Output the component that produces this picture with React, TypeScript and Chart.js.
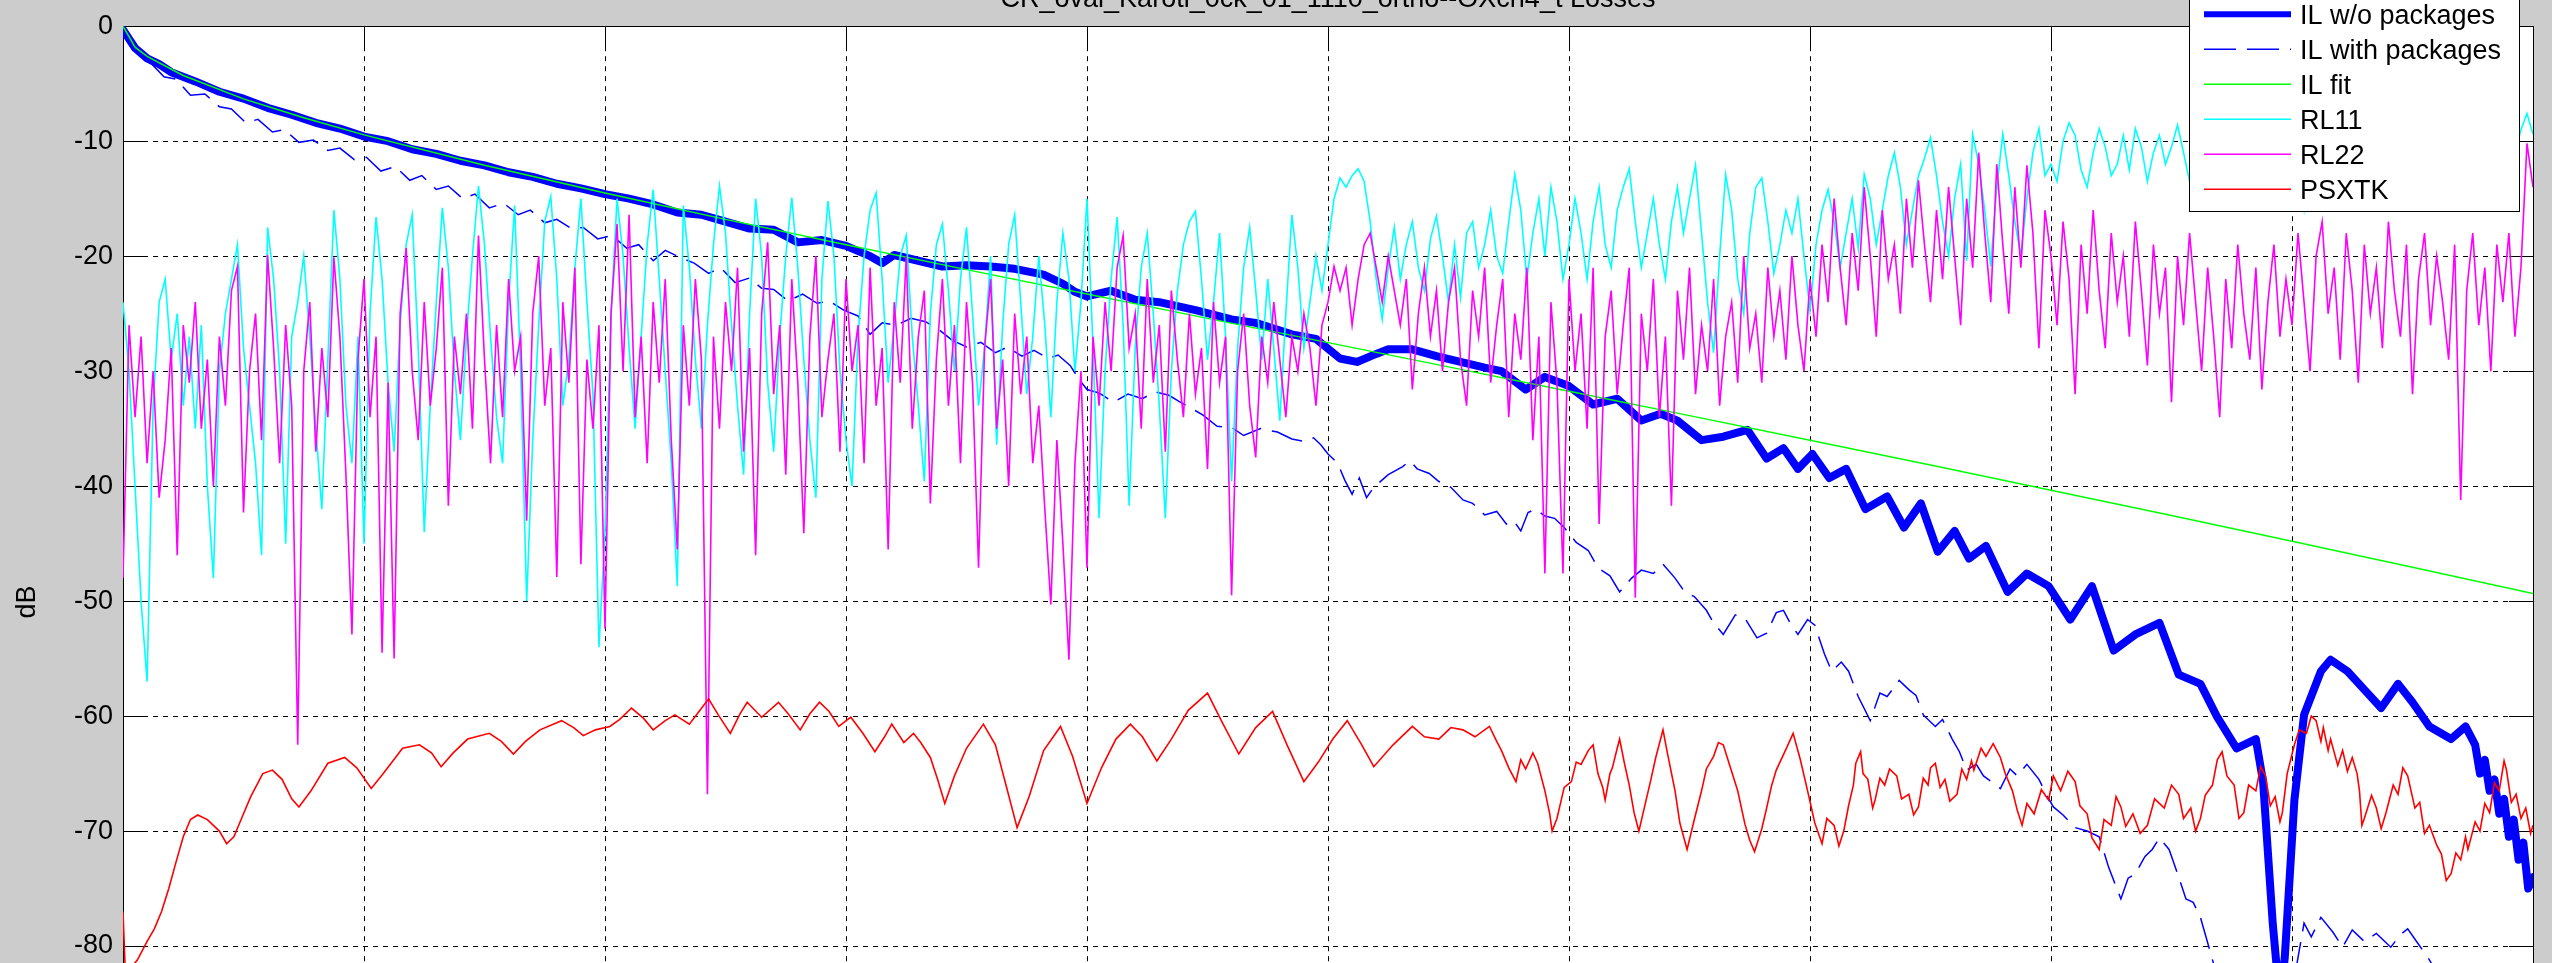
import React, { useEffect, useRef } from 'react';
import { Chart, registerables } from 'chart.js';

Chart.register(...registerables);

const FONT = '"Liberation Sans", Arial, Helvetica, sans-serif';
const TITLE = 'CR_oval_Karoti_0ck_01_1110_ortho--OXch4_t Losses';
const Y_LABEL = 'dB';
const LEGEND_LABELS = ['IL w/o packages', 'IL with packages', 'IL fit', 'RL11', 'RL22', 'PSXTK'];
const X_TICKS = [0, 1, 2, 3, 4, 5, 6, 7, 8, 9, 10];
const Y_TICKS = [0, -10, -20, -30, -40, -50, -60, -70, -80, -90, -100];

// IL without packages [x, dB]
const IL_WO: [number, number][] = [
  [0, -0.3], [0.05, -1.9], [0.1, -2.8], [0.15, -3.3], [0.2, -4.0], [0.3, -4.8], [0.4, -5.7], [0.5, -6.3],
  [0.6, -7.1], [0.7, -7.7], [0.8, -8.4], [0.9, -8.9], [1.0, -9.6], [1.1, -10.0], [1.2, -10.7], [1.3, -11.1],
  [1.4, -11.7], [1.5, -12.1], [1.6, -12.7], [1.7, -13.1], [1.8, -13.7], [1.9, -14.1], [2.0, -14.6], [2.1, -15.0],
  [2.2, -15.5], [2.3, -16.2], [2.4, -16.4], [2.5, -17.0], [2.6, -17.6], [2.7, -17.7], [2.8, -18.8], [2.9, -18.6],
  [3.0, -19.1], [3.1, -20.0], [3.15, -20.6], [3.2, -19.9], [3.3, -20.4], [3.4, -20.9], [3.5, -20.8], [3.6, -20.9],
  [3.7, -21.1], [3.82, -21.6], [3.9, -22.4], [3.95, -23.1], [4.0, -23.5], [4.1, -23.0], [4.2, -23.8], [4.3, -24.0],
  [4.45, -24.7], [4.6, -25.5], [4.7, -25.8], [4.85, -26.8], [4.95, -27.2], [5.05, -28.9], [5.12, -29.2], [5.2, -28.5],
  [5.25, -28.1], [5.35, -28.1], [5.45, -28.7], [5.55, -29.2], [5.65, -29.7], [5.72, -30.0], [5.82, -31.6], [5.9, -30.5],
  [6.0, -31.3], [6.1, -32.9], [6.2, -32.4], [6.3, -34.3], [6.38, -33.7], [6.45, -34.3], [6.55, -36.0], [6.64, -35.7],
  [6.74, -35.1], [6.82, -37.6], [6.89, -36.7], [6.95, -38.5], [7.01, -37.2], [7.08, -39.3], [7.15, -38.5], [7.23, -42.0],
  [7.32, -40.9], [7.39, -43.6], [7.46, -41.5], [7.53, -45.7], [7.6, -43.9], [7.66, -46.3], [7.73, -45.2], [7.82, -49.2],
  [7.9, -47.6], [7.99, -48.7], [8.08, -51.6], [8.17, -48.7], [8.26, -54.3], [8.35, -52.9], [8.45, -51.9], [8.53, -56.4],
  [8.62, -57.2], [8.69, -60.1], [8.77, -62.8], [8.85, -62.0], [8.88, -65.7], [8.92, -78], [8.95, -85], [8.97, -81],
  [9.01, -67.3], [9.05, -59.9], [9.12, -56.1], [9.16, -55.1], [9.23, -56.1], [9.3, -57.7], [9.37, -59.3], [9.44, -57.2],
  [9.5, -58.8], [9.57, -60.9], [9.66, -62.0], [9.72, -60.9], [9.76, -62.5], [9.78, -65], [9.8, -63.8], [9.82, -66.5],
  [9.84, -65.5], [9.86, -68.5], [9.88, -67.2], [9.9, -70.5], [9.92, -69], [9.94, -72.5], [9.96, -71], [9.98, -75],
  [10.0, -74],
];

// IL with packages [x, dB]
const IL_PKG: [number, number][] = [
  [0, -0.3], [0.04, -1.8], [0.08, -2.8], [0.12, -3.3], [0.17, -4.4], [0.22, -4.6], [0.28, -6.0], [0.34, -5.9],
  [0.4, -7.0], [0.45, -7.2], [0.51, -8.4], [0.56, -8.1], [0.62, -9.2], [0.67, -9.0], [0.73, -10.1], [0.79, -9.9],
  [0.85, -10.8], [0.9, -10.6], [0.96, -11.6], [1.01, -11.4], [1.07, -12.6], [1.13, -12.2], [1.19, -13.4], [1.24, -13.0],
  [1.3, -14.2], [1.35, -13.9], [1.41, -15.0], [1.46, -14.6], [1.52, -15.8], [1.58, -15.4], [1.64, -16.4], [1.69, -16.0],
  [1.75, -17.1], [1.8, -16.8], [1.86, -17.6], [1.91, -17.5], [1.97, -18.5], [2.03, -18.2], [2.09, -19.3], [2.14, -19.0],
  [2.2, -20.4], [2.25, -19.5], [2.31, -20.1], [2.37, -20.6], [2.43, -21.5], [2.48, -21.0], [2.54, -22.3], [2.6, -21.9],
  [2.65, -22.8], [2.7, -22.9], [2.76, -23.9], [2.82, -23.3], [2.88, -24.1], [2.93, -23.9], [2.99, -24.7], [3.05, -25.2],
  [3.1, -26.8], [3.15, -25.8], [3.21, -26.0], [3.27, -25.4], [3.33, -25.7], [3.38, -26.3], [3.44, -27.3], [3.5, -27.9],
  [3.56, -27.5], [3.62, -28.4], [3.67, -27.9], [3.73, -28.7], [3.78, -28.2], [3.84, -28.9], [3.88, -28.6], [3.93, -29.5],
  [3.97, -30.8], [4.0, -31.6], [4.05, -31.9], [4.11, -32.7], [4.17, -32.0], [4.23, -32.4], [4.28, -31.8], [4.34, -32.1],
  [4.38, -32.6], [4.43, -33.2], [4.48, -33.8], [4.54, -34.8], [4.6, -34.9], [4.65, -35.6], [4.72, -35.0], [4.79, -35.3],
  [4.85, -35.9], [4.9, -36.1], [4.94, -35.8], [4.97, -36.4], [5.0, -37.2], [5.04, -38.0], [5.07, -39.5], [5.1, -40.7],
  [5.13, -39.3], [5.16, -41.0], [5.19, -40.1], [5.25, -39.0], [5.31, -38.3], [5.34, -37.8], [5.37, -38.5], [5.42, -38.9],
  [5.46, -39.6], [5.51, -40.1], [5.56, -41.2], [5.6, -41.5], [5.65, -42.5], [5.7, -42.2], [5.74, -43.3], [5.77, -43.0],
  [5.8, -43.9], [5.83, -42.3], [5.86, -42.0], [5.9, -42.6], [5.94, -42.8], [5.98, -43.6], [6.03, -44.9], [6.08, -45.6],
  [6.12, -47.1], [6.17, -47.8], [6.21, -49.2], [6.26, -48.0], [6.3, -47.3], [6.35, -47.6], [6.39, -46.8], [6.44, -48.0],
  [6.48, -49.2], [6.52, -49.6], [6.57, -50.8], [6.6, -51.9], [6.64, -52.9], [6.69, -51.2], [6.73, -51.5], [6.78, -53.2],
  [6.82, -52.8], [6.86, -51.0], [6.89, -50.8], [6.92, -52.0], [6.95, -52.9], [6.99, -51.6], [7.02, -52.1], [7.06, -54.6],
  [7.09, -56.1], [7.13, -55.3], [7.16, -56.1], [7.2, -58.3], [7.25, -60.4], [7.29, -58.0], [7.32, -58.3], [7.37, -56.9],
  [7.41, -57.7], [7.44, -58.2], [7.47, -59.9], [7.52, -60.9], [7.55, -60.3], [7.59, -62.0], [7.62, -63.1], [7.65, -64.7],
  [7.69, -64.2], [7.72, -65.2], [7.79, -66.3], [7.83, -64.6], [7.86, -65.2], [7.9, -64.2], [7.95, -65.5], [7.98, -66.8],
  [8.01, -67.9], [8.05, -68.6], [8.1, -69.7], [8.15, -70.0], [8.2, -70.5], [8.24, -73.2], [8.29, -75.9], [8.32, -74.1],
  [8.35, -73.7], [8.39, -72.2], [8.42, -71.6], [8.45, -70.6], [8.49, -71.6], [8.53, -74.0], [8.56, -75.9], [8.59, -76.2],
  [8.62, -77.5], [8.67, -81.2], [8.71, -84], [8.8, -87], [8.9, -88], [9.0, -84], [9.05, -78], [9.08, -79.2],
  [9.12, -77.5], [9.17, -78.8], [9.21, -80.1], [9.25, -78.6], [9.3, -79.6], [9.35, -78.9], [9.41, -80.1], [9.45, -79.0],
  [9.48, -78.5], [9.53, -80.0], [9.57, -81.2], [9.65, -84], [9.8, -86], [10.0, -88],
];

// IL fit [x, dB]
const IL_FIT: [number, number][] = [
  [0, 0], [0.05, -1.82], [0.1, -2.62], [0.25, -4.29], [0.5, -6.32], [0.75, -7.97], [1, -9.45], [1.5, -12.1],
  [2, -14.51], [2.5, -16.8], [3, -19.01], [3.5, -21.17], [4, -23.3], [4.5, -25.41], [5, -27.52], [5.5, -29.63],
  [6, -31.74], [6.5, -33.87], [7, -36.01], [7.5, -38.17], [8, -40.36], [8.5, -42.56], [9, -44.8], [9.5, -47.06],
  [10, -49.34],
];

// sample spacing of the return-loss traces (x units)
const RL_STEP = 0.025;

const RL11: number[] = [
  -24, -30, -40, -50, -57, -33, -24, -22, -29, -25, -33, -27, -35, -26, -40, -48, -30, -25, -22, -19,
  -28, -33, -38, -46, -17.5, -22, -30, -45, -27, -24, -20, -27, -35, -42, -29, -16, -22, -33, -38, -27,
  -45, -25, -16.6, -22, -31, -37, -26, -19, -16.4, -28, -44, -33, -24, -15.8, -21, -30, -36, -27, -20, -13.9,
  -19, -27, -34, -38, -24, -15.6, -30, -50, -36, -26, -17, -14.8, -22, -33, -29, -21, -15, -24, -32, -54,
  -44, -25, -15, -20, -28, -35, -27, -19, -14.2, -22, -30, -38, -48.7, -15.6, -21, -29, -35, -26, -19, -13.9,
  -18, -26, -33, -39, -25, -15, -20, -31, -37, -27, -20, -14.9, -21, -29, -36, -41, -22, -15.2, -20, -30,
  -36, -40, -27, -20, -16, -14.5, -22, -31, -26, -20, -18.2, -27, -33, -39.6, -25, -19, -17.2, -23, -30, -22,
  -17.5, -25, -33, -28, -20, -36.4, -26, -19, -16.4, -24, -32, -27, -20, -26, -34, -24, -18, -22, -30, -24,
  -15, -28, -42.8, -30, -22, -16.6, -26, -41.7, -28, -21, -18, -25, -33, -42.8, -30, -23, -19, -17, -16.1, -22,
  -29, -24, -18, -27, -39.6, -28, -21, -17.5, -23, -29, -22, -28, -34.3, -25, -16.4, -21, -28, -24, -20, -23,
  -19, -15, -13.2, -14, -13, -12.4, -13.5, -17, -22, -25.5, -21, -17.5, -22, -19, -17, -21, -23, -18.5, -16.5, -20,
  -24, -19, -23.6, -18, -17, -21, -19, -16, -20, -21.5, -17, -12.9, -16, -22, -18, -15, -20, -14, -17, -22,
  -19, -15, -18, -22, -17, -14, -19, -21, -16, -14, -12.4, -17, -21, -18, -15, -19, -22, -17, -14, -18,
  -15, -12.1, -18, -24, -28.4, -20, -12.9, -16, -22, -25, -18, -14, -13.2, -17, -21.5, -19, -16, -18, -15, -20,
  -24.7, -19, -16, -14.2, -17, -21, -18, -15, -19.3, -12.9, -15, -19, -16, -13, -11, -14, -19, -16, -13, -11.5,
  -9.7, -13, -17, -20, -15, -12, -20.4, -9.4, -12, -16, -20.9, -14, -9.4, -13, -17, -20, -15, -11, -8.9, -13,
  -12, -13.5, -10, -8.4, -9.5, -12.5, -14, -11, -8.9, -10.5, -13, -12, -9.5, -12.5, -8.9, -10.5, -13.5, -11, -9.5, -12,
  -10.5, -8.6, -11, -13.5, -12, -9.5, -11, -13.5, -10.5, -9, -12, -14, -11, -9.5, -13, -11.5, -9, -10.5, -13.5, -12,
  -10, -13, -16, -12, -9, -11, -14, -12, -10, -13, -15, -11, -9, -12, -14, -11, -9, -12, -15, -12,
  -10, -13, -11, -9, -12, -14, -11, -9, -12, -15, -12, -10, -13, -11, -9, -12, -14, -11, -9, -7.6,
  -9.4,
];

const RL22: number[] = [
  -48, -26, -34, -27, -38, -30, -41, -36, -28, -46, -26, -31, -24, -35, -29, -40, -27, -33, -23, -20.9,
  -42.3, -30, -25, -36, -19.9, -28, -38, -26, -33, -62.5, -30, -24, -37, -28, -34, -20.1, -27, -39, -52.9, -29,
  -22, -34, -27, -54.5, -31, -55, -25, -19.3, -30, -36, -24, -33, -28, -21, -41.7, -27, -32, -25, -35, -18.2,
  -29, -38, -26, -34, -22, -30, -27, -43, -25, -20, -33, -28, -47.9, -24, -31, -21, -46.8, -29, -35, -26,
  -52.4, -25, -17.2, -30, -16.4, -34, -27, -38, -24, -31, -22, -36, -45.5, -26, -33, -22, -29, -66.8, -27, -35,
  -24, -30, -21, -37, -28, -46, -25, -18.8, -32, -26, -39, -22, -31, -44.1, -27, -20, -34, -29, -25, -37,
  -22, -30, -26, -38, -21, -33, -28, -45.5, -24, -31, -20, -35, -27, -23, -41.5, -29, -22, -33, -26, -38,
  -24, -31, -47.1, -28, -22, -35, -29, -40, -25, -32, -27, -38, -33, -42, -50.3, -36, -45, -55.1, -38, -30,
  -47.1, -27, -33, -24, -30, -21, -18.2, -28, -25, -35, -22, -31, -26, -37, -23, -29, -34, -25, -32, -28,
  -38.5, -24, -31, -27, -49.5, -30, -25, -33, -37.5, -27, -31, -24, -29, -34, -27, -30, -25, -28, -33, -26,
  -24, -20.9, -23, -21, -26, -22, -19, -18, -21, -24, -20, -23, -26, -22, -31.6, -25, -21, -27, -23, -30,
  -24, -21, -29, -33, -23, -27, -21, -31, -26, -22, -34, -25, -29, -21, -36, -27, -47.6, -24, -31, -47.6,
  -22, -30, -25, -35, -21, -43.3, -27, -23, -32, -26, -21, -49.7, -25, -30, -22, -34, -27, -41.7, -23, -29,
  -21, -32, -26, -30, -22, -33, -27, -24, -31, -20, -28, -25, -31, -21, -27, -23, -29, -20, -26, -30,
  -22, -27, -19, -24, -15, -21, -26, -18, -23, -14, -20, -27, -16, -22, -19, -25, -15, -21, -13.4, -19,
  -24, -16, -22, -14, -20, -26, -15, -21, -11, -18, -24, -12, -19, -25, -14, -21, -12.1, -18, -28, -16,
  -20, -26, -17, -22, -32, -19, -25, -16, -23, -28, -18, -24, -20, -27, -17, -23, -29.5, -19, -25, -21,
  -32.7, -20, -26, -18, -24, -30, -21, -27, -34, -22, -28, -19, -25, -29, -21, -31.6, -24, -19, -27, -22,
  -26, -18, -24, -30, -20, -17, -25, -21, -29, -18, -23, -31, -19, -25, -21, -28, -17, -23, -27, -19,
  -32, -22, -18, -26, -20, -24, -29, -19, -41.2, -23, -18, -26, -21, -30, -19, -24, -18, -27, -21, -10.2,
  -14,
];

// PSXTK [x, dB]
const PSXTK: [number, number][] = [
  [0, -77], [0.01, -82.5], [0.06, -81.2], [0.1, -79.6], [0.13, -78.5], [0.16, -77], [0.19, -75], [0.22, -72.7],
  [0.25, -70.5], [0.28, -69], [0.31, -68.6], [0.35, -69.0], [0.4, -70], [0.43, -71.1], [0.46, -70.5], [0.49, -69],
  [0.53, -67], [0.58, -65], [0.62, -64.7], [0.66, -65.5], [0.7, -67.2], [0.73, -67.9], [0.78, -66.5], [0.85, -64.1],
  [0.92, -63.6], [0.97, -64.5], [1.03, -66.3], [1.08, -65], [1.16, -62.8], [1.23, -62.5], [1.28, -63.2], [1.32, -64.4],
  [1.37, -63.2], [1.43, -62.0], [1.52, -61.5], [1.57, -62.2], [1.62, -63.3], [1.67, -62.2], [1.73, -61.2], [1.82, -60.4],
  [1.87, -61.0], [1.91, -61.7], [1.96, -61.2], [2.02, -60.9], [2.06, -60.3], [2.11, -59.3], [2.16, -60.2], [2.2, -61.2],
  [2.25, -60.4], [2.29, -59.9], [2.35, -60.7], [2.39, -59.6], [2.43, -58.5], [2.47, -59.9], [2.52, -61.5], [2.56, -59.8],
  [2.59, -58.8], [2.65, -60.1], [2.72, -58.8], [2.76, -59.8], [2.81, -61.2], [2.85, -59.8], [2.89, -58.8], [2.93, -59.6],
  [2.97, -60.9], [3.02, -60.1], [3.07, -61.5], [3.12, -63.1], [3.16, -61.8], [3.19, -60.7], [3.24, -62.3], [3.28, -61.5],
  [3.31, -62.3], [3.35, -63.6], [3.38, -65.5], [3.41, -67.6], [3.45, -65.2], [3.5, -62.8], [3.57, -60.7], [3.62, -62.5],
  [3.67, -66.5], [3.71, -69.7], [3.76, -67], [3.82, -63], [3.89, -60.9], [3.94, -63.5], [4.0, -67.6], [4.06, -64.5],
  [4.12, -62], [4.18, -60.7], [4.23, -61.8], [4.29, -63.9], [4.35, -62.0], [4.42, -59.5], [4.5, -58.0], [4.56, -60.5],
  [4.63, -63.3], [4.7, -61.0], [4.77, -59.6], [4.83, -62.5], [4.9, -65.7], [4.96, -64], [5.02, -62], [5.08, -60.4],
  [5.14, -62.5], [5.19, -64.4], [5.27, -62.5], [5.35, -60.9], [5.4, -61.8], [5.46, -62.0], [5.51, -61.0], [5.56, -61.2],
  [5.61, -61.8], [5.67, -60.9], [5.7, -62.2], [5.72, -63.0], [5.75, -64.5], [5.78, -65.7], [5.8, -63.8], [5.82, -64.6],
  [5.85, -63.2], [5.87, -64.1], [5.9, -66.5], [5.92, -68.5], [5.93, -70.0], [5.95, -68.9], [5.96, -68.0], [5.98, -66.2],
  [6.01, -65.7], [6.03, -64.0], [6.05, -64.2], [6.08, -63.0], [6.1, -62.5], [6.12, -65], [6.14, -66.2], [6.15, -67.3],
  [6.17, -65.0], [6.18, -64.5], [6.2, -62.8], [6.21, -62.0], [6.23, -64.1], [6.25, -66], [6.27, -68.4], [6.29, -70.0],
  [6.31, -68.2], [6.34, -65.5], [6.36, -63.6], [6.39, -61.2], [6.41, -63.4], [6.44, -66.5], [6.46, -69.3], [6.49, -71.6],
  [6.52, -69.0], [6.55, -66.5], [6.57, -64.6], [6.6, -63.5], [6.62, -62.3], [6.64, -62.5], [6.67, -64.5], [6.7, -66.5],
  [6.73, -69.4], [6.75, -70.8], [6.77, -71.8], [6.8, -69.8], [6.82, -68], [6.84, -66.1], [6.86, -64.7], [6.9, -62.9],
  [6.93, -61.5], [6.96, -63.8], [6.99, -66.5], [7.02, -69.3], [7.05, -71.1], [7.07, -68.9], [7.1, -69.5], [7.12, -71.3],
  [7.14, -70.0], [7.16, -67.8], [7.18, -66], [7.19, -64.1], [7.21, -63.1], [7.22, -65.0], [7.24, -65.5], [7.26, -68.0],
  [7.27, -67.3], [7.29, -65.4], [7.31, -66], [7.33, -64.6], [7.36, -65.2], [7.38, -67.2], [7.41, -66.8], [7.43, -68.6],
  [7.45, -67.9], [7.47, -65.4], [7.49, -66], [7.5, -64.5], [7.52, -64.1], [7.54, -66.2], [7.56, -65.5], [7.58, -67.4],
  [7.61, -66.8], [7.63, -64.6], [7.65, -65.5], [7.67, -63.9], [7.68, -64.7], [7.71, -62.8], [7.73, -63.5], [7.76, -62.4],
  [7.79, -63.6], [7.81, -65.0], [7.84, -66.5], [7.86, -68.2], [7.88, -69.5], [7.9, -67.6], [7.93, -68.5], [7.96, -66.4],
  [7.99, -67.3], [8.01, -65.2], [8.04, -66.5], [8.07, -64.8], [8.1, -65.7], [8.12, -67.8], [8.15, -68.5], [8.17, -70.6],
  [8.2, -71.6], [8.22, -69.0], [8.25, -69.5], [8.27, -67.0], [8.29, -67.9], [8.31, -69.6], [8.34, -68.5], [8.37, -70.2],
  [8.4, -69.5], [8.43, -67.2], [8.47, -68], [8.5, -66.0], [8.53, -66.8], [8.55, -68.9], [8.58, -68], [8.6, -70.0],
  [8.62, -68.9], [8.64, -66.9], [8.67, -66], [8.69, -63.8], [8.71, -63.1], [8.73, -65.2], [8.76, -66], [8.78, -68.9],
  [8.8, -68.4], [8.82, -66.0], [8.85, -66.5], [8.87, -64.4], [8.89, -65.2], [8.91, -67.8], [8.93, -67], [8.95, -69.2],
  [8.96, -68.4], [8.98, -65.0], [9.01, -62.5], [9.03, -61.2], [9.06, -61.5], [9.08, -60.0], [9.1, -60.4], [9.12, -62.2],
  [9.13, -61.0], [9.15, -63.0], [9.16, -62.0], [9.19, -64.3], [9.21, -63], [9.23, -64.8], [9.25, -63.6], [9.27, -65.0],
  [9.28, -66.5], [9.29, -69.5], [9.3, -68.9], [9.33, -66.9], [9.35, -68], [9.37, -69.8], [9.39, -68.4], [9.42, -66.0],
  [9.44, -66.8], [9.46, -64.5], [9.48, -65.2], [9.51, -68.0], [9.53, -67.5], [9.55, -70.2], [9.57, -69.5], [9.6, -71.2],
  [9.62, -72], [9.64, -74.3], [9.66, -73.7], [9.68, -71.9], [9.7, -72.5], [9.72, -70.5], [9.73, -71.6], [9.76, -69.2],
  [9.78, -70], [9.8, -67.6], [9.82, -68.4], [9.84, -65.8], [9.86, -66.5], [9.88, -63.9], [9.89, -64.7], [9.91, -67.5],
  [9.93, -66.8], [9.95, -68.9], [9.97, -68], [9.99, -70.2], [10.0, -69.5],
];

const COLORS = ['#0000ff', '#0000ff', '#00ff00', '#00ffff', '#ff00ff', '#ff0000'];
const WIDTHS = [8, 1.5, 1.5, 1.6, 1.6, 1.6];
const LEGEND_WIDTHS = [6, 1.5, 1.5, 1.5, 1.5, 1.5];
const DASHES: number[][] = [[], [32, 11], [], [], [], []];

const CANVAS_W = 2552;
const CANVAS_H = 1260;

const pairs = (arr: [number, number][]) => arr.map(([x, y]) => ({ x, y }));
const sampled = (arr: number[]) => arr.map((y, i) => ({ x: i * RL_STEP, y }));

const framePlugin = {
  id: 'matlabFrame',
  beforeDraw(chart: any) {
    const { ctx, chartArea: a } = chart;
    ctx.save();
    ctx.fillStyle = '#cccccc';
    ctx.fillRect(0, 0, chart.width, chart.height);
    ctx.fillStyle = '#ffffff';
    ctx.fillRect(a.left, a.top, a.right - a.left, a.bottom - a.top);
    ctx.restore();
  },
  beforeDatasetsDraw(chart: any) {
    const { ctx, chartArea: a, scales } = chart;
    const xs = scales.x;
    const ys = scales.y;
    ctx.save();
    ctx.strokeStyle = '#000000';
    ctx.lineWidth = 1;
    ctx.setLineDash([5, 5]);
    X_TICKS.forEach((v) => {
      const px = Math.round(xs.getPixelForValue(v)) + 0.5;
      if (px <= a.left + 1 || px >= a.right - 1) return;
      ctx.beginPath();
      ctx.moveTo(px, a.top);
      ctx.lineTo(px, a.bottom);
      ctx.stroke();
    });
    Y_TICKS.forEach((v) => {
      const py = Math.round(ys.getPixelForValue(v)) + 0.5;
      if (py <= a.top + 1 || py >= a.bottom - 1) return;
      ctx.beginPath();
      ctx.moveTo(a.left, py);
      ctx.lineTo(a.right, py);
      ctx.stroke();
    });
    ctx.setLineDash([]);
    const TL = 24;
    X_TICKS.forEach((v) => {
      const px = Math.round(xs.getPixelForValue(v)) + 0.5;
      ctx.beginPath();
      ctx.moveTo(px, a.top);
      ctx.lineTo(px, a.top + TL);
      ctx.moveTo(px, a.bottom);
      ctx.lineTo(px, a.bottom - TL);
      ctx.stroke();
    });
    Y_TICKS.forEach((v) => {
      const py = Math.round(ys.getPixelForValue(v)) + 0.5;
      ctx.beginPath();
      ctx.moveTo(a.left, py);
      ctx.lineTo(a.left + TL, py);
      ctx.moveTo(a.right, py);
      ctx.lineTo(a.right - TL, py);
      ctx.stroke();
    });
    ctx.strokeRect(Math.round(a.left) + 0.5, Math.round(a.top) + 0.5, Math.round(a.right - a.left), Math.round(a.bottom - a.top));
    ctx.restore();
  },
  afterDraw(chart: any) {
    const { ctx, chartArea: a } = chart;
    ctx.save();
    ctx.fillStyle = '#000000';
    ctx.font = `27px ${FONT}`;
    ctx.textAlign = 'center';
    ctx.textBaseline = 'alphabetic';
    ctx.fillText(TITLE, (a.left + a.right) / 2, 7);
    ctx.save();
    ctx.translate(28, (a.top + a.bottom) / 2 + 1);
    ctx.rotate(-Math.PI / 2);
    ctx.textAlign = 'center';
    ctx.textBaseline = 'middle';
    ctx.fillText(Y_LABEL, 0, 0);
    ctx.restore();
    const L = 2189;
    const R = 2519;
    const T = -12;
    const B = 211;
    ctx.fillStyle = '#ffffff';
    ctx.fillRect(L, T, R - L, B - T);
    ctx.strokeStyle = '#000000';
    ctx.lineWidth = 1;
    ctx.strokeRect(L + 0.5, T + 0.5, R - L, B - T);
    LEGEND_LABELS.forEach((label, i) => {
      const y = 14.2 + 35 * i;
      ctx.beginPath();
      ctx.strokeStyle = COLORS[i];
      ctx.lineWidth = LEGEND_WIDTHS[i];
      ctx.setLineDash(DASHES[i]);
      ctx.moveTo(2204, y);
      ctx.lineTo(2291, y);
      ctx.stroke();
      ctx.setLineDash([]);
      ctx.fillStyle = '#000000';
      ctx.textAlign = 'left';
      ctx.textBaseline = 'alphabetic';
      ctx.fillText(label, 2300, y + 10);
    });
    ctx.restore();
  },
};

export default function App() {
  const canvasRef = useRef<HTMLCanvasElement | null>(null);

  useEffect(() => {
    const canvas = canvasRef.current;
    if (!canvas) return;
    const series = [pairs(IL_WO), pairs(IL_PKG), pairs(IL_FIT), sampled(RL11), sampled(RL22), pairs(PSXTK)];
    const chart = new Chart(canvas, {
      type: 'line',
      data: {
        datasets: series.map((data, i) => ({
          label: LEGEND_LABELS[i],
          data,
          borderColor: COLORS[i],
          backgroundColor: COLORS[i],
          borderWidth: WIDTHS[i],
          borderDash: DASHES[i],
          pointRadius: 0,
          tension: 0,
          fill: false,
          borderJoinStyle: i === 0 ? 'round' : 'miter',
          borderCapStyle: i === 0 ? 'round' : 'butt',
          order: 6 - i,
        })),
      },
      options: {
        animation: false,
        responsive: false,
        devicePixelRatio: 1,
        events: [],
        layout: { padding: { left: 0, top: 23, right: 19, bottom: CANVAS_H - 1176 } },
        plugins: {
          legend: { display: false },
          tooltip: { enabled: false },
          title: { display: false },
        },
        scales: {
          x: { type: 'linear', min: 0, max: 10, display: false },
          y: {
            type: 'linear',
            min: -100,
            max: 0,
            ticks: {
              stepSize: 10,
              color: '#000000',
              padding: 10,
              font: { family: FONT, size: 27 },
              callback: (v: any) => String(v),
            },
            grid: { display: false, drawTicks: false },
            border: { display: false },
            afterFit: (s: any) => {
              s.width = 123;
            },
          },
        },
      } as any,
      plugins: [framePlugin],
    });
    return () => chart.destroy();
  }, []);

  return (
    <div style={{ position: 'fixed', left: 0, top: 0, width: CANVAS_W, height: CANVAS_H, overflow: 'hidden' }}>
      <canvas ref={canvasRef} width={CANVAS_W} height={CANVAS_H} style={{ display: 'block', width: CANVAS_W, height: CANVAS_H }} />
    </div>
  );
}
